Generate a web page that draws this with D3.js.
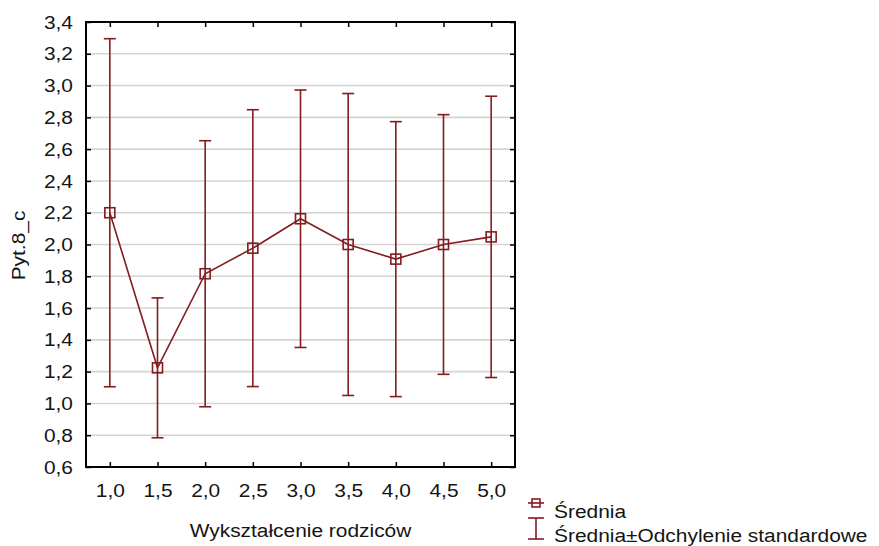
<!DOCTYPE html>
<html>
<head>
<meta charset="utf-8">
<script src="https://cdn.jsdelivr.net/npm/d3@7"></script>
<style>
  html, body { margin: 0; padding: 0; background: #fff; }
  svg text { font-family: "Liberation Sans", Arial, sans-serif; fill: #141414; }
</style>
</head>
<body>
<svg id="chart" width="879" height="546"></svg>
<script>
// Parents' education level vs. mean answer, with ±1 SD whiskers
const education = [1.0, 1.5, 2.0, 2.5, 3.0, 3.5, 4.0, 4.5, 5.0];
const means     = [2.20, 1.224, 1.816, 1.977, 2.162, 2.00, 1.908, 2.00, 2.048];
const sds       = [1.095, 0.44, 0.837, 0.871, 0.81, 0.95, 0.865, 0.817, 0.885];
const xTicks = [1.0, 1.5, 2.0, 2.5, 3.0, 3.5, 4.0, 4.5, 5.0];
const yTicks = [0.6, 0.8, 1.0, 1.2, 1.4, 1.6, 1.8, 2.0, 2.2, 2.4, 2.6, 2.8, 3.0, 3.2, 3.4];

const color = "#831c1f";
const fontSize = 19;
const sx = 1.1;             // slight horizontal widening of the lettering
const fmt = v => d3.format(".1f")(v).replace(".", ",");

const svg = d3.select("#chart");
const plot = { left: 86, right: 515, top: 22, bottom: 467 };

const x = d3.scaleLinear().domain([0.75, 5.25]).range([plot.left, plot.right]);
const y = d3.scaleLinear().domain([0.6, 3.4]).range([plot.bottom, plot.top]);

// places a widened text label with its anchor at (tx, ty)
function label(parent, tx, ty, str, anchor = "start", rot = 0) {
  return parent.append("text")
    .attr("transform", `translate(${tx},${ty}) rotate(${rot}) scale(${sx},1)`)
    .attr("text-anchor", anchor)
    .attr("font-size", fontSize)
    .text(str);
}

// horizontal grid
svg.append("g")
  .selectAll("line")
  .data(yTicks.slice(1, -1))
  .join("line")
  .attr("x1", plot.left).attr("x2", plot.right)
  .attr("y1", d => y(d)).attr("y2", d => y(d))
  .attr("stroke", "#d4d4d4").attr("stroke-width", 1.6);

// axes with inward ticks on all four sides
const tickLen = 5;
const axisStyle = g => {
  g.select(".domain").remove();
  g.selectAll(".tick line").attr("stroke", "#000").attr("stroke-width", 1.5);
  g.selectAll(".tick text")
    .attr("font-size", fontSize).attr("fill", "#141414")
    .style("font-family", "'Liberation Sans', Arial, sans-serif");
};

svg.append("g")
  .attr("transform", `translate(0,${plot.bottom})`)
  .call(d3.axisBottom(x).tickValues(xTicks).tickFormat(fmt).tickSizeInner(-tickLen).tickSizeOuter(0).tickPadding(17))
  .call(axisStyle)
  .call(g => g.selectAll(".tick text").attr("transform", `scale(${sx},1)`));

svg.append("g")
  .attr("transform", `translate(0,${plot.top})`)
  .call(d3.axisTop(x).tickValues(xTicks).tickFormat("").tickSizeInner(-tickLen).tickSizeOuter(0))
  .call(axisStyle);

const yPad = 13;
svg.append("g")
  .attr("transform", `translate(${plot.left},0)`)
  .call(d3.axisLeft(y).tickValues(yTicks).tickFormat(fmt).tickSizeInner(-tickLen).tickSizeOuter(0).tickPadding(yPad))
  .call(axisStyle)
  .call(g => g.selectAll(".tick text").attr("x", -yPad / sx).attr("transform", `scale(${sx},1)`));

svg.append("g")
  .attr("transform", `translate(${plot.right},0)`)
  .call(d3.axisRight(y).tickValues(yTicks).tickFormat("").tickSizeInner(-tickLen).tickSizeOuter(0))
  .call(axisStyle);

// frame
svg.append("rect")
  .attr("x", plot.left).attr("y", plot.top)
  .attr("width", plot.right - plot.left).attr("height", plot.bottom - plot.top)
  .attr("fill", "none").attr("stroke", "#000").attr("stroke-width", 2);

// error bars (mean ± SD)
const data = education.map((e, i) => ({ e, m: means[i], s: sds[i] }));
const capW = 6;
const eb = svg.append("g").attr("stroke", color).attr("stroke-width", 1.6).attr("fill", "none");
data.forEach(d => {
  const cx = x(d.e), yTop = y(d.m + d.s), yBot = y(d.m - d.s);
  eb.append("line").attr("x1", cx).attr("x2", cx).attr("y1", yTop).attr("y2", yBot);
  eb.append("line").attr("x1", cx - capW).attr("x2", cx + capW).attr("y1", yTop).attr("y2", yTop);
  eb.append("line").attr("x1", cx - capW).attr("x2", cx + capW).attr("y1", yBot).attr("y2", yBot);
});

// mean line
svg.append("path")
  .datum(data)
  .attr("d", d3.line().x(d => x(d.e)).y(d => y(d.m)))
  .attr("fill", "none").attr("stroke", color).attr("stroke-width", 1.6);

// square markers
const sq = 10;
svg.append("g")
  .selectAll("rect")
  .data(data)
  .join("rect")
  .attr("x", d => x(d.e) - sq / 2).attr("y", d => y(d.m) - sq / 2)
  .attr("width", sq).attr("height", sq)
  .attr("fill", "none").attr("stroke", color).attr("stroke-width", 1.6);

// axis titles
label(svg, (plot.left + plot.right) / 2, 537, "Wykształcenie rodziców", "middle");
label(svg, 25, (plot.top + plot.bottom) / 2 + 1, "Pyt.8_c", "middle", -90);

// legend
const lg = svg.append("g");
const lx = 536;
lg.append("line").attr("x1", lx - 8).attr("x2", lx + 8).attr("y1", 503).attr("y2", 503)
  .attr("stroke", color).attr("stroke-width", 1.6);
lg.append("rect").attr("x", lx - 4).attr("y", 499).attr("width", 8).attr("height", 8)
  .attr("fill", "none").attr("stroke", color).attr("stroke-width", 1.6);
label(lg, 554, 518, "Średnia");

lg.append("line").attr("x1", lx).attr("x2", lx).attr("y1", 518).attr("y2", 539)
  .attr("stroke", color).attr("stroke-width", 1.6);
lg.append("line").attr("x1", lx - 8).attr("x2", lx + 8).attr("y1", 518).attr("y2", 518)
  .attr("stroke", color).attr("stroke-width", 1.6);
lg.append("line").attr("x1", lx - 8).attr("x2", lx + 8).attr("y1", 539).attr("y2", 539)
  .attr("stroke", color).attr("stroke-width", 1.6);
label(lg, 554, 542, "Średnia±Odchylenie standardowe");
</script>
</body>
</html>
